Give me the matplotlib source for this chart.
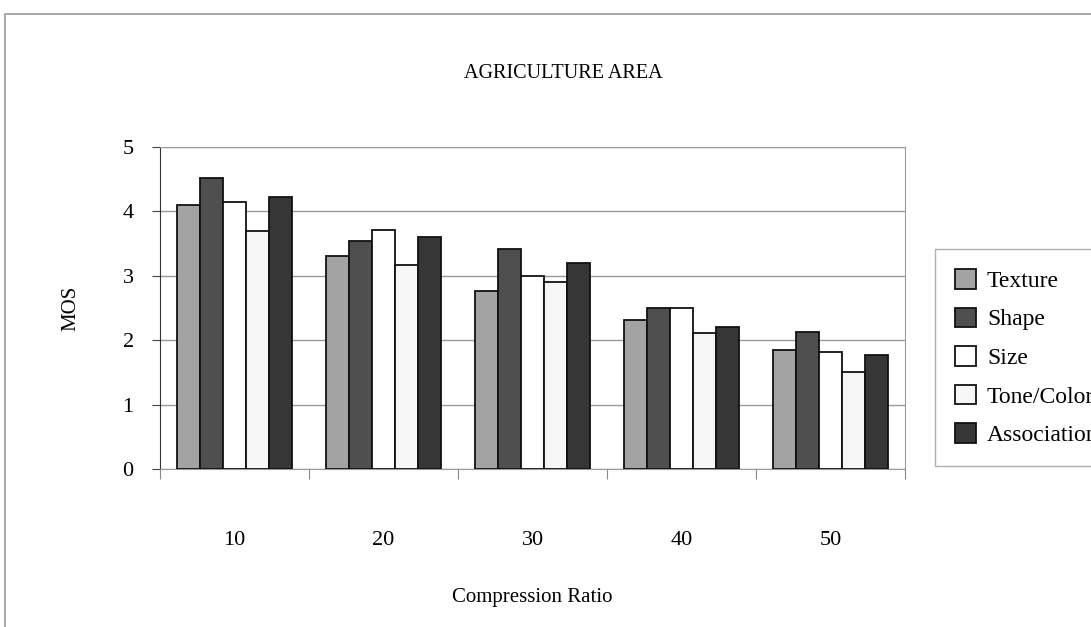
import numpy as np
import matplotlib.pyplot as plt
from matplotlib.patches import Rectangle

plt.rcParams['font.family'] = ['Liberation Serif', 'DejaVu Serif']

ratios = ['10', '20', '30', '40', '50']
series_names = ['Texture', 'Shape', 'Size', 'Tone/Color', 'Association']
texture = [4.1, 3.3, 2.76, 2.31, 1.85]
shape = [4.52, 3.54, 3.41, 2.5, 2.12]
size = [4.15, 3.71, 3.0, 2.5, 1.82]
tone_color = [3.7, 3.16, 2.9, 2.11, 1.5]
association = [4.23, 3.6, 3.2, 2.2, 1.77]
colors = ['#a3a3a3', '#4f4f4f', '#ffffff', '#f6f6f6', '#363636']

fig = plt.figure(figsize=(10.91, 6.27), dpi=100)
ax = fig.add_axes([0.1467, 0.252, 0.6828, 0.5136])

# outer chart border
fig.patches.append(Rectangle((0.0046, -0.05), 1.1, 1.0277, transform=fig.transFigure,
                             fill=False, edgecolor='#9a9a9a', linewidth=1.2))

x = np.arange(len(ratios))
width = 0.155
for i, (vals, name, c) in enumerate(zip([texture, shape, size, tone_color, association],
                                        series_names, colors)):
    ax.bar(x + (i - 2) * width, vals, width, color=c, edgecolor='#111111',
           linewidth=1.3, label=name, zorder=3)

ax.set_xlim(-0.5, 4.5)
ax.set_ylim(0, 5)
ax.set_yticks(range(6))
ax.yaxis.grid(True, color='#9a9a9a', linewidth=1.0, zorder=0)

# category separators on the x axis
ax.set_xticks(np.arange(-0.5, 5.0, 1.0))
ax.set_xticklabels([])
ax.set_xticks(x, minor=True)
ax.set_xticklabels(ratios, minor=True, fontsize=16)
ax.tick_params(axis='x', which='major', length=7, color='#888888', direction='out')
ax.tick_params(axis='x', which='minor', length=0, pad=45)
ax.tick_params(axis='y', length=6, color='#444444', labelsize=16, pad=13)

for side in ['top', 'right', 'bottom']:
    ax.spines[side].set_color('#9a9a9a')
ax.spines['left'].set_color('#333333')

ax.set_ylabel('MOS', fontsize=15, labelpad=30)
ax.set_xlabel('Compression Ratio', fontsize=15, labelpad=27)
fig.text(0.516, 0.883, 'AGRICULTURE AREA', ha='center', va='center', fontsize=14.5)

leg = fig.legend(loc='upper left', bbox_to_anchor=(0.857, 0.603), fontsize=17,
                 frameon=True, fancybox=False, edgecolor='#9a9a9a',
                 handlelength=0.9, handleheight=0.9, handletextpad=0.45,
                 labelspacing=0.66, borderpad=0.85, borderaxespad=0)

fig.savefig('out.png', dpi=100)
